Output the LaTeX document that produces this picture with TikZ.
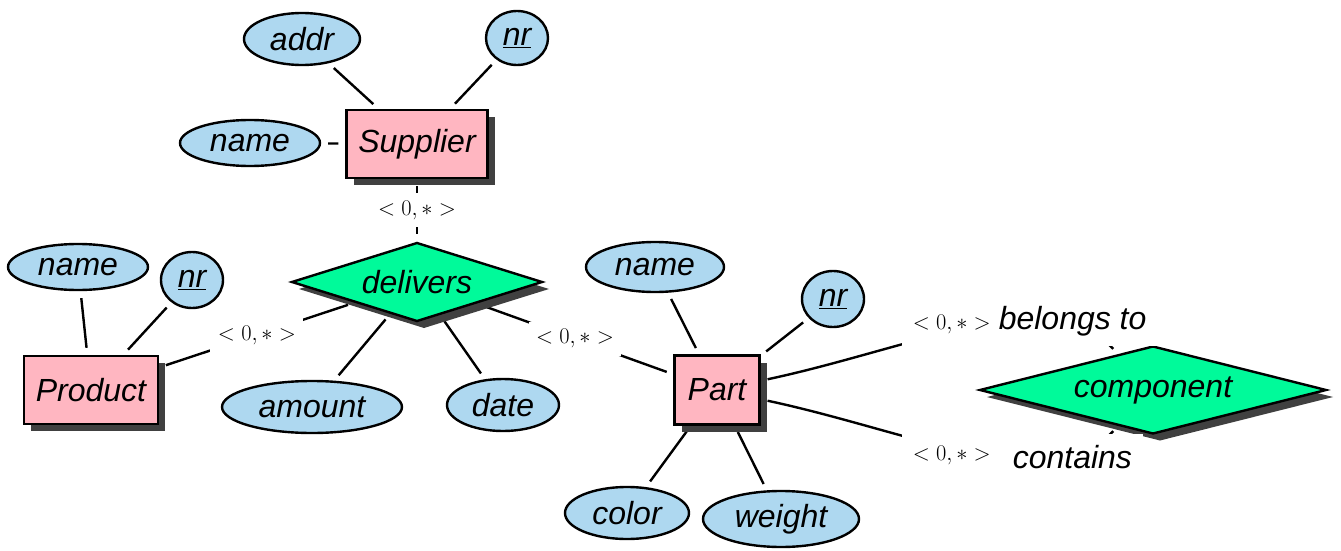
\documentclass[tikz,border=0pt]{standalone}
\usepackage{fontspec}
\newfontfamily\hv{Liberation Sans}
\usetikzlibrary{shapes.geometric,shadows,backgrounds}
\definecolor{attrblue}{RGB}{174,216,240}
\definecolor{entpink}{RGB}{255,182,193}
\definecolor{relgreen}{RGB}{0,250,154}
\definecolor{shadowgray}{RGB}{64,64,64}
\newcommand{\cardtext}{{\fontsize{20.74}{24}\selectfont\scalebox{1.08}{$<0,*>$}}}
\begin{document}
\begin{tikzpicture}[x=1pt,y=-1pt,line width=2.4pt,
  every node/.style={font=\hv\itshape\fontsize{32}{38}\selectfont},
  myshadow/.style={drop shadow={shadow xshift=7pt,shadow yshift=-7pt,fill=shadowgray,opacity=1}},
  ent/.style={rectangle,draw,fill=entpink,inner sep=2pt,myshadow},
  attr/.style={ellipse,draw,fill=attrblue,inner sep=0pt},
  rel/.style={diamond,draw,fill=relgreen,inner sep=0pt,myshadow},
  conn/.style={line width=2.4pt,shorten <=7pt,shorten >=7pt},
  card/.style={fill=white,inner sep=7.5pt},
  rolelabel/.style={fill=white,inner sep=10.7pt,anchor=base west}]
\useasboundingbox (0,0) rectangle (1341,551);
% entities and relationships
\node[ent,minimum width=141pt,minimum height=68pt] (sup) at (417,144) {Supplier};
\node[ent,minimum width=134pt,minimum height=68pt] (prod) at (91,390) {Product};
\node[ent,minimum width=85pt,minimum height=69pt] (part) at (717,390) {Part};
\node[rel,aspect=3.2,minimum width=251pt,minimum height=79pt] (del) at (417,282) {delivers};
\node[rel,aspect=3.9,minimum width=347pt,minimum height=88pt] (comp) at (1153,390) {component};
% attributes
\node[attr,minimum width=116pt,minimum height=52pt] (saddr) at (302,39) {addr};
\node[attr,minimum width=62pt,minimum height=54pt] (snr) at (517,38) {\underline{nr}};
\node[attr,minimum width=140pt,minimum height=46pt] (sname) at (250,143) {name};
\node[attr,minimum width=140pt,minimum height=46pt] (pname) at (78,267) {name};
\node[attr,minimum width=62pt,minimum height=56pt] (pnr) at (192,280) {\underline{nr}};
\node[attr,minimum width=180pt,minimum height=52pt] (amount) at (312,407) {amount};
\node[attr,minimum width=112pt,minimum height=52pt] (date) at (503,405) {date};
\node[attr,minimum width=138pt,minimum height=50pt] (tname) at (655,267) {name};
\node[attr,minimum width=62pt,minimum height=56pt] (tnr) at (833,299) {\underline{nr}};
\node[attr,minimum width=124pt,minimum height=52pt] (color) at (627,513) {color};
\node[attr,minimum width=156pt,minimum height=56pt] (weight) at (781,519) {weight};
% role labels of the recursive relationship
\node[rolelabel] (bel) at (901,329) {\cardtext\hspace{8pt}belongs to};
\node[rolelabel] (con) at (901,468) {\raisebox{8pt}{\cardtext}\hspace{22pt}contains};
\begin{scope}[on background layer]
  \draw[conn] (sup) -- (saddr);
  \draw[conn] (sup) -- (snr);
  \draw[conn] (sup) -- (sname);
  \draw[conn] (sup) -- node[card] (c1) {\cardtext} (del);
  \draw[conn] (del) -- node[card] (c2) {\cardtext} (prod);
  \draw[conn] (del) -- node[card] (c3) {\cardtext} (part);
  \draw[conn] (del) -- (amount);
  \draw[conn] (del) -- (date);
  \draw[conn] (prod) -- (pname);
  \draw[conn] (prod) -- (pnr);
  \draw[conn] (part) -- (tname);
  \draw[conn] (part) -- (tnr);
  \draw[conn] (part) -- (color);
  \draw[conn] (part) -- (weight);
  \draw[conn] (part) .. controls +(12:200pt) and +(134:150pt) .. (comp);
  \draw[conn] (part) .. controls +(-12:200pt) and +(-134:150pt) .. (comp);
\end{scope}
\end{tikzpicture}
\end{document}
